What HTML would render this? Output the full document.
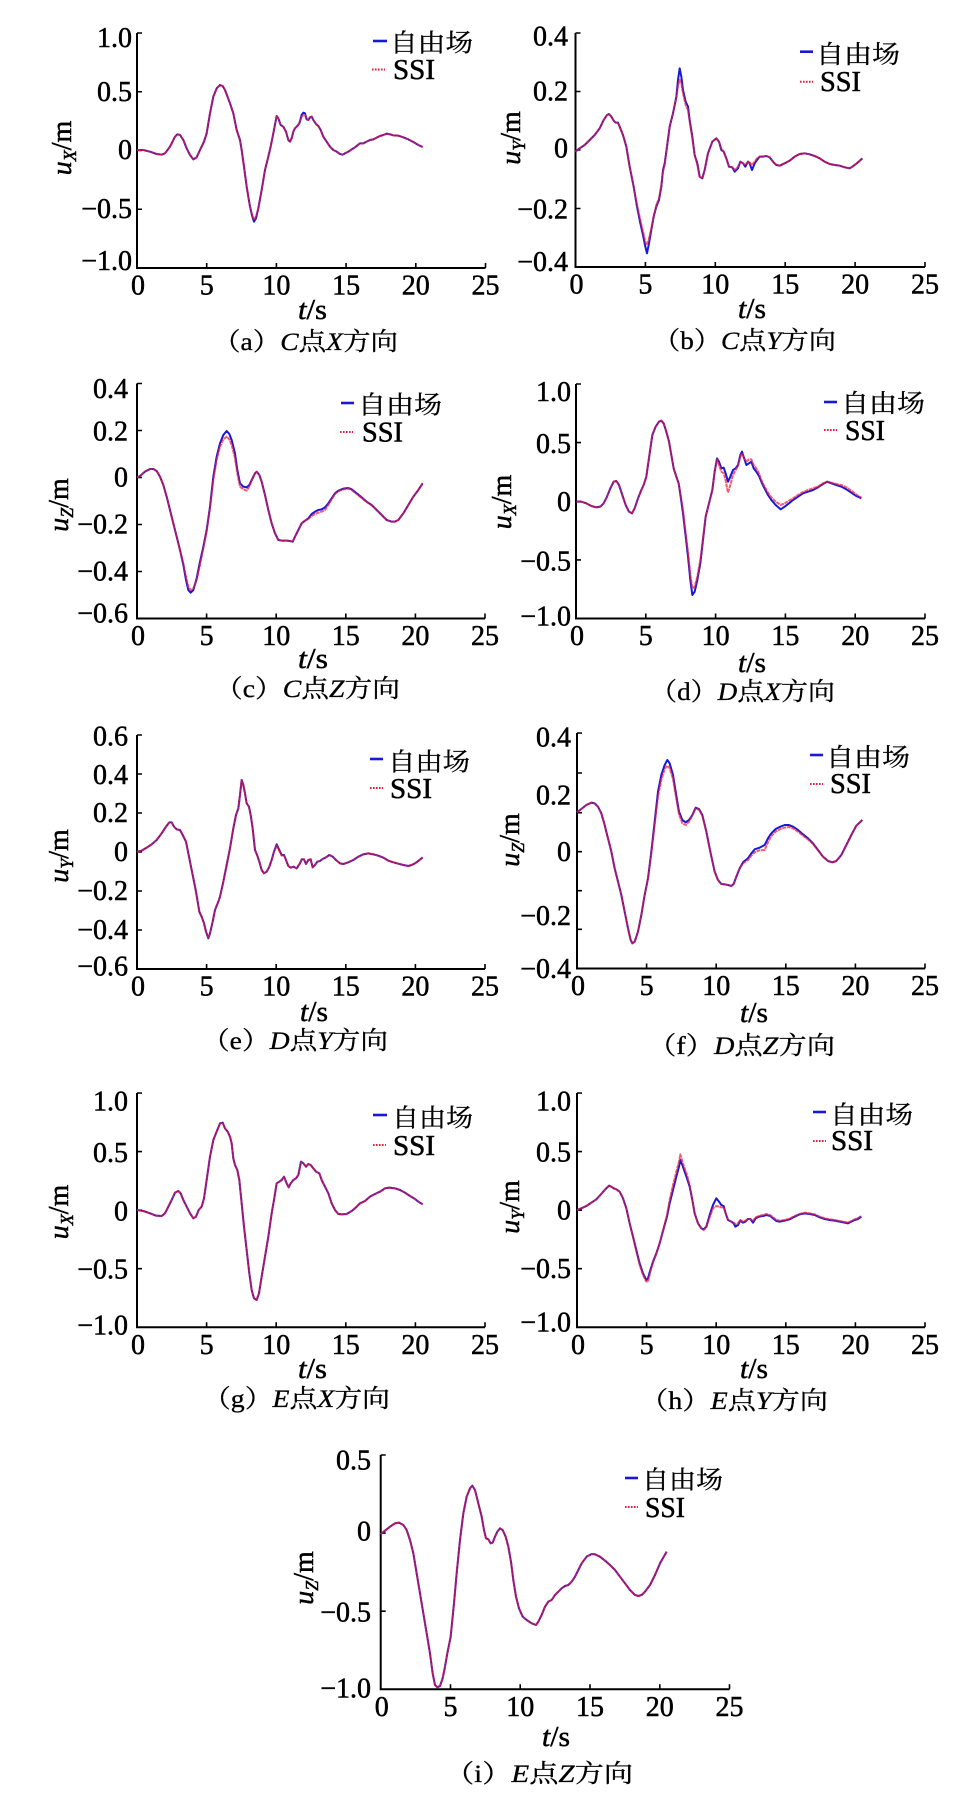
<!DOCTYPE html>
<html><head><meta charset="utf-8"><style>
html,body{margin:0;padding:0;background:#fff;}
svg{display:block;}
.t{font-family:"Liberation Serif","Times New Roman","Noto Serif CJK SC","DejaVu Serif",serif;font-size:28px;fill:#000;stroke:#000;stroke-width:0.5px;}
.cj{font-family:"Liberation Serif","Noto Serif CJK SC",serif;font-size:25px;fill:#000;stroke:#000;stroke-width:0.3px;}
.ax{fill:none;stroke:#000;stroke-width:2;}
.tk{stroke:#000;stroke-width:1.6;}
.b{fill:none;stroke:#1818d8;stroke-width:6;stroke-linejoin:round;}
.r{fill:none;stroke:#ee1c3c;stroke-opacity:0.72;stroke-width:6;stroke-dasharray:12 2;stroke-linejoin:round;}
.lb{stroke:#1818d8;stroke-width:2.6;}
.lr{stroke:#ee1c3c;stroke-width:2;stroke-dasharray:1.6 1.4;}
</style></head><body>
<svg width="966" height="1814" viewBox="0 0 966 1814" xmlns="http://www.w3.org/2000/svg">
<rect width="966" height="1814" fill="#fff"/>

<!-- ================= (a) ================= -->
<path class="ax" d="M137,33 L137,268 L485.5,268"/>
<path class="tk" d="M137,33h5M137,91.75h5M137,150.5h5M137,209.25h5M206.7,268v-5M276.4,268v-5M346.1,268v-5M415.8,268v-5M485.5,268v-5"/>
<g class="t" text-anchor="end"><text x="132" y="47">1.0</text><text x="132" y="101">0.5</text><text x="132" y="159">0</text><text x="132" y="218">−0.5</text><text x="132" y="270">−1.0</text></g>
<g class="t" text-anchor="middle"><text x="138" y="294.5">0</text><text x="206.7" y="294.5">5</text><text x="276.4" y="294.5">10</text><text x="346.1" y="294.5">15</text><text x="415.8" y="294.5">20</text><text x="485.5" y="294.5">25</text></g>
<text class="t" transform="translate(71,148) rotate(-90)" text-anchor="middle"><tspan font-style="italic">u</tspan><tspan font-style="italic" font-size="18" dy="5">X</tspan><tspan dy="-5">/m</tspan></text>
<text class="t" x="298" y="319" textLength="29" lengthAdjust="spacingAndGlyphs"><tspan font-style="italic">t</tspan>/s</text>
<text class="cj" x="213" y="350" textLength="185" lengthAdjust="spacingAndGlyphs">（a）<tspan font-style="italic">C</tspan>点<tspan font-style="italic">X</tspan>方向</text>
<line class="lb" x1="373" y1="41" x2="387" y2="41"/><text class="cj" x="390" y="51.5" font-size="26" textLength="83" lengthAdjust="spacingAndGlyphs">自由场</text>
<line class="lr" x1="372" y1="69.5" x2="385" y2="69.5"/><text class="t" x="393" y="79" textLength="42" lengthAdjust="spacingAndGlyphs">SSI</text>
<g transform="translate(0,0) scale(0.33333)">
<polyline class="b" points="411,450 430,450 450,455 470,462 485,464 495,460 510,440 525,410 532,403 540,405 550,420 560,445 570,465 580,478 590,472 600,450 612,425 620,400 630,340 640,290 650,265 660,255 668,258 675,270 690,310 700,340 710,390 720,420 725,450 732,500 740,560 750,620 757,650 762,665 768,655 775,625 785,570 795,510 805,470 812,440 820,400 830,348 835,355 842,375 850,380 858,395 865,420 870,425 875,415 880,395 885,385 892,378 898,370 905,345 910,338 915,340 920,358 925,360 930,352 935,350 940,360 948,372 955,378 962,390 970,410 980,425 990,440 1000,450 1010,455 1020,462 1028,464 1035,460 1045,455 1055,448 1065,442 1080,430 1090,430 1100,425 1110,420 1120,418 1130,413 1140,408 1150,405 1160,401 1170,403 1180,406 1195,407 1210,412 1225,418 1240,426 1255,435 1268,441"/>
<polyline class="r" points="411,450 430,450 450,455 470,462 485,464 495,460 510,440 525,410 532,403 540,405 550,420 560,445 570,465 580,478 590,472 600,450 612,425 620,400 630,340 640,290 650,265 660,255 668,258 675,270 690,310 700,340 710,390 720,420 725,450 732,500 740,560 750,620 757,648 762,658 768,650 775,625 785,570 795,510 805,470 812,440 820,400 830,348 835,355 842,375 850,380 858,395 865,420 870,425 875,415 880,395 885,385 892,378 898,370 905,350 910,345 915,345 920,358 925,360 930,352 935,350 940,360 948,372 955,378 962,390 970,410 980,425 990,440 1000,450 1010,455 1020,462 1028,464 1035,460 1045,455 1055,448 1065,442 1080,430 1090,430 1100,425 1110,420 1120,418 1130,413 1140,408 1150,405 1160,401 1170,403 1180,406 1195,407 1210,412 1225,418 1240,426 1255,435 1268,441"/>
</g>

<!-- ================= (b) ================= -->
<path class="ax" d="M575.5,33 L575.5,267 L925,267"/>
<path class="tk" d="M575.5,33h5M575.5,91.5h5M575.5,150h5M575.5,208.5h5M645.4,267v-5M715.3,267v-5M785.2,267v-5M855.1,267v-5M925,267v-5"/>
<g class="t" text-anchor="end"><text x="568" y="45.5">0.4</text><text x="568" y="100.5">0.2</text><text x="568" y="157.5">0</text><text x="568" y="218.5">−0.2</text><text x="568" y="271">−0.4</text></g>
<g class="t" text-anchor="middle"><text x="576.5" y="293.5">0</text><text x="645.4" y="293.5">5</text><text x="715.3" y="293.5">10</text><text x="785.2" y="293.5">15</text><text x="855.1" y="293.5">20</text><text x="925" y="293.5">25</text></g>
<text class="t" transform="translate(520,138) rotate(-90)" text-anchor="middle"><tspan font-style="italic">u</tspan><tspan font-style="italic" font-size="18" dy="5">Y</tspan><tspan dy="-5">/m</tspan></text>
<text class="t" x="738" y="318" textLength="28" lengthAdjust="spacingAndGlyphs"><tspan font-style="italic">t</tspan>/s</text>
<text class="cj" x="653" y="349" textLength="183" lengthAdjust="spacingAndGlyphs">（b）<tspan font-style="italic">C</tspan>点<tspan font-style="italic">Y</tspan>方向</text>
<line class="lb" x1="800" y1="51.7" x2="813" y2="51.7"/><text class="cj" x="816" y="63" font-size="26" textLength="84" lengthAdjust="spacingAndGlyphs">自由场</text>
<line class="lr" x1="800" y1="81.7" x2="813" y2="81.7"/><text class="t" x="820" y="91" textLength="41" lengthAdjust="spacingAndGlyphs">SSI</text>
<g transform="translate(483,0) scale(0.33333)">
<polyline class="b" points="277,455 290,445 305,435 320,420 335,405 350,385 362,360 372,345 378,342 385,350 392,362 398,368 405,368 412,385 420,405 430,440 440,500 452,560 462,620 472,670 480,705 487,740 492,760 497,735 505,690 512,650 520,620 528,600 535,560 540,510 545,490 552,440 560,380 570,340 580,290 585,240 590,205 595,230 600,270 608,305 615,320 620,360 628,410 635,465 643,490 650,530 658,535 665,510 675,460 688,425 700,415 708,425 715,450 722,455 730,475 738,500 748,502 755,515 765,505 772,485 780,490 787,500 795,485 800,490 807,510 815,490 822,480 830,470 840,470 850,468 860,472 870,485 880,495 890,497 905,490 920,482 935,470 950,462 965,460 980,463 995,468 1010,475 1025,485 1040,492 1055,495 1070,497 1085,502 1100,505 1108,500 1115,495 1125,487 1138,475"/>
<polyline class="r" points="277,455 290,445 305,435 320,420 335,405 350,385 362,360 372,345 378,342 385,350 392,362 398,368 405,368 412,385 420,405 430,440 440,500 452,560 462,615 472,660 480,695 487,725 492,735 497,720 505,685 512,650 520,615 528,595 535,555 540,515 545,495 552,440 560,380 570,340 580,295 585,258 590,240 595,250 600,280 608,315 615,330 620,365 628,415 635,465 643,495 650,530 658,535 665,510 675,460 688,425 700,415 708,425 715,445 722,455 730,475 738,500 748,502 755,510 765,500 772,485 780,490 787,495 795,485 800,488 807,495 815,485 822,475 830,470 840,470 850,468 860,472 870,485 880,495 890,497 905,490 920,482 935,470 950,462 965,460 980,463 995,468 1010,475 1025,485 1040,492 1055,495 1070,497 1085,502 1100,505 1108,500 1115,495 1125,487 1138,475"/>
</g>

<!-- ================= (c) ================= -->
<path class="ax" d="M137,383.5 L137,618.5 L485,618.5"/>
<path class="tk" d="M137,383.5h5M137,430.5h5M137,477.5h5M137,524.5h5M137,571.5h5M206.6,618.5v-5M276.2,618.5v-5M345.8,618.5v-5M415.4,618.5v-5M485,618.5v-5"/>
<g class="t" text-anchor="end"><text x="128" y="398">0.4</text><text x="128" y="440.5">0.2</text><text x="128" y="486.5">0</text><text x="128" y="533.5">−0.2</text><text x="128" y="580.5">−0.4</text><text x="128" y="622.5">−0.6</text></g>
<g class="t" text-anchor="middle"><text x="138" y="645">0</text><text x="206.6" y="645">5</text><text x="276.2" y="645">10</text><text x="345.8" y="645">15</text><text x="415.4" y="645">20</text><text x="485" y="645">25</text></g>
<text class="t" transform="translate(68,505) rotate(-90)" text-anchor="middle"><tspan font-style="italic">u</tspan><tspan font-style="italic" font-size="18" dy="5">Z</tspan><tspan dy="-5">/m</tspan></text>
<text class="t" x="298" y="668" textLength="30" lengthAdjust="spacingAndGlyphs"><tspan font-style="italic">t</tspan>/s</text>
<text class="cj" x="215" y="697" textLength="185" lengthAdjust="spacingAndGlyphs">（c）<tspan font-style="italic">C</tspan>点<tspan font-style="italic">Z</tspan>方向</text>
<line class="lb" x1="341" y1="403" x2="354" y2="403"/><text class="cj" x="358" y="413.5" font-size="26" textLength="84" lengthAdjust="spacingAndGlyphs">自由场</text>
<line class="lr" x1="340" y1="432" x2="353" y2="432"/><text class="t" x="362" y="441.5" textLength="41" lengthAdjust="spacingAndGlyphs">SSI</text>
<g transform="translate(0,370) scale(0.33333)">
<polyline class="b" points="411,322 420,318 435,305 450,297 460,297 470,303 480,320 490,345 500,380 510,420 520,460 530,500 540,540 550,585 558,630 565,660 572,668 580,660 590,625 600,575 610,530 620,480 630,410 640,320 650,260 660,220 670,195 680,183 688,192 695,210 705,250 712,300 720,340 730,350 740,352 748,345 755,330 765,310 770,305 778,315 785,335 795,375 805,420 815,460 825,490 835,510 845,512 860,512 870,513 878,515 885,500 895,480 905,460 915,452 925,445 935,432 945,425 955,420 965,418 975,412 985,400 995,385 1005,370 1015,362 1030,356 1045,354 1055,358 1070,370 1085,382 1100,395 1115,405 1130,420 1145,435 1160,450 1175,455 1185,455 1195,450 1210,430 1225,405 1240,380 1255,360 1268,340"/>
<polyline class="r" points="411,322 420,318 435,305 450,297 460,297 470,303 480,320 490,345 500,380 510,420 520,460 530,500 540,540 550,580 558,620 565,650 572,660 580,655 590,630 600,585 610,535 620,485 630,415 640,330 650,270 660,230 670,208 680,200 688,208 695,225 705,265 712,310 720,350 730,358 740,362 748,350 755,332 765,310 770,305 778,315 785,335 795,375 805,420 815,460 825,490 835,510 845,512 860,512 870,513 878,515 885,500 895,480 905,460 915,452 925,447 935,438 945,432 955,428 965,425 975,420 985,405 995,388 1005,372 1015,364 1030,358 1045,356 1055,360 1070,372 1085,384 1100,396 1115,406 1130,420 1145,435 1160,450 1175,455 1185,455 1195,450 1210,430 1225,405 1240,380 1255,360 1268,340"/>
</g>

<!-- ================= (d) ================= -->
<path class="ax" d="M576,384 L576,618.5 L925,618.5"/>
<path class="tk" d="M576,384h5M576,442.6h5M576,501.25h5M576,559.9h5M645.8,618.5v-5M715.6,618.5v-5M785.4,618.5v-5M855.2,618.5v-5M925,618.5v-5"/>
<g class="t" text-anchor="end"><text x="571" y="401">1.0</text><text x="571" y="453">0.5</text><text x="571" y="511">0</text><text x="571" y="570.5">−0.5</text><text x="571" y="625.5">−1.0</text></g>
<g class="t" text-anchor="middle"><text x="577" y="645">0</text><text x="645.8" y="645">5</text><text x="715.6" y="645">10</text><text x="785.4" y="645">15</text><text x="855.2" y="645">20</text><text x="925" y="645">25</text></g>
<text class="t" transform="translate(511,502) rotate(-90)" text-anchor="middle"><tspan font-style="italic">u</tspan><tspan font-style="italic" font-size="18" dy="5">X</tspan><tspan dy="-5">/m</tspan></text>
<text class="t" x="738" y="672" textLength="28" lengthAdjust="spacingAndGlyphs"><tspan font-style="italic">t</tspan>/s</text>
<text class="cj" x="650" y="700" textLength="185" lengthAdjust="spacingAndGlyphs">（d）<tspan font-style="italic">D</tspan>点<tspan font-style="italic">X</tspan>方向</text>
<line class="lb" x1="824" y1="402" x2="837" y2="402"/><text class="cj" x="841" y="412" font-size="26" textLength="84" lengthAdjust="spacingAndGlyphs">自由场</text>
<line class="lr" x1="824" y1="430" x2="837" y2="430"/><text class="t" x="845" y="440" textLength="40" lengthAdjust="spacingAndGlyphs">SSI</text>
<g transform="translate(483,370) scale(0.33333)">
<polyline class="b" points="280,395 295,395 310,400 325,408 340,412 352,410 362,400 372,380 382,355 392,335 400,333 408,345 418,375 428,405 438,425 447,430 455,415 465,385 475,360 482,345 490,320 500,250 508,195 518,170 528,155 535,152 542,160 550,185 558,215 565,255 572,295 580,320 587,340 593,380 600,430 607,490 615,560 622,630 628,675 635,665 643,630 652,580 660,510 668,440 678,400 688,360 695,305 702,265 708,275 715,295 722,293 728,310 735,335 742,320 750,300 758,295 765,285 772,255 777,245 782,260 790,285 798,280 805,275 812,295 820,305 828,318 835,335 842,350 855,375 865,390 878,405 893,418 905,410 918,400 930,390 945,380 960,370 975,365 990,360 1005,352 1020,342 1033,335 1045,340 1060,345 1075,350 1090,358 1105,368 1120,378 1135,385"/>
<polyline class="r" points="280,395 295,395 310,400 325,408 340,412 352,410 362,400 372,380 382,355 392,335 400,333 408,345 418,375 428,405 438,425 447,430 455,415 465,385 475,360 482,345 490,320 500,250 508,195 518,170 528,155 535,152 542,160 550,185 558,215 565,255 572,295 580,320 587,340 593,375 600,420 607,480 615,545 622,615 628,655 635,650 643,620 652,570 660,505 668,440 678,400 688,360 695,305 702,268 708,285 715,305 722,310 728,332 735,368 742,345 750,315 758,300 765,288 772,260 777,250 782,262 790,275 798,268 805,268 812,285 820,295 828,310 835,330 842,345 855,368 865,382 878,395 893,405 905,400 918,392 930,385 945,375 960,366 975,360 990,355 1005,350 1020,340 1033,335 1045,338 1060,342 1075,345 1090,352 1105,362 1120,374 1135,383"/>
</g>

<!-- ================= (e) ================= -->
<path class="ax" d="M137,735 L137,969 L485,969"/>
<path class="tk" d="M137,735h5M137,774h5M137,813h5M137,852h5M137,891h5M137,930h5M206.6,969v-5M276.2,969v-5M345.8,969v-5M415.4,969v-5M485,969v-5"/>
<g class="t" text-anchor="end"><text x="128" y="745.5">0.6</text><text x="128" y="784">0.4</text><text x="128" y="822">0.2</text><text x="128" y="861">0</text><text x="128" y="900">−0.2</text><text x="128" y="939">−0.4</text><text x="128" y="975.5">−0.6</text></g>
<g class="t" text-anchor="middle"><text x="138" y="995.5">0</text><text x="206.6" y="995.5">5</text><text x="276.2" y="995.5">10</text><text x="345.8" y="995.5">15</text><text x="415.4" y="995.5">20</text><text x="485" y="995.5">25</text></g>
<text class="t" transform="translate(68,856) rotate(-90)" text-anchor="middle"><tspan font-style="italic">u</tspan><tspan font-style="italic" font-size="18" dy="5">Y</tspan><tspan dy="-5">/m</tspan></text>
<text class="t" x="300" y="1021" textLength="28" lengthAdjust="spacingAndGlyphs"><tspan font-style="italic">t</tspan>/s</text>
<text class="cj" x="202" y="1049" textLength="186" lengthAdjust="spacingAndGlyphs">（e）<tspan font-style="italic">D</tspan>点<tspan font-style="italic">Y</tspan>方向</text>
<line class="lb" x1="370" y1="759" x2="383" y2="759"/><text class="cj" x="388" y="770.5" font-size="26" textLength="82" lengthAdjust="spacingAndGlyphs">自由场</text>
<line class="lr" x1="370" y1="788" x2="383" y2="788"/><text class="t" x="390" y="798" textLength="42" lengthAdjust="spacingAndGlyphs">SSI</text>
<g transform="translate(0,735) scale(0.33333)">
<polyline class="b" points="411,350 425,347 440,338 455,328 470,315 485,295 498,275 508,262 515,262 522,275 530,283 540,285 548,300 558,320 568,370 578,420 588,470 598,530 605,545 612,565 618,590 625,610 630,595 638,560 645,525 655,500 660,485 670,440 680,390 690,340 700,280 708,240 715,220 720,180 725,135 730,150 735,175 740,205 747,215 752,240 758,280 765,345 772,362 778,380 785,405 792,415 800,410 808,395 815,375 822,350 830,328 838,345 845,360 852,360 858,375 865,393 872,398 880,395 890,400 900,385 905,373 912,373 918,387 925,375 932,373 938,397 945,390 952,380 960,378 968,372 978,367 988,360 998,365 1008,375 1020,385 1030,387 1045,382 1060,375 1075,365 1090,358 1105,355 1120,358 1135,362 1150,368 1165,377 1180,382 1195,386 1210,390 1225,393 1235,390 1245,385 1255,378 1268,367"/>
<polyline class="r" points="411,350 425,347 440,338 455,328 470,315 485,295 498,275 508,262 515,262 522,275 530,283 540,285 548,300 558,320 568,370 578,420 588,470 598,530 605,545 612,565 618,590 625,610 630,595 638,560 645,525 655,500 660,485 670,440 680,390 690,340 700,280 708,240 715,220 720,180 725,135 730,150 735,175 740,205 747,215 752,240 758,280 765,345 772,362 778,380 785,405 792,415 800,410 808,395 815,375 822,350 830,332 838,348 845,362 852,360 858,375 865,393 872,398 880,395 890,400 900,385 905,373 912,373 918,387 925,375 932,373 938,397 945,390 952,380 960,378 968,372 978,367 988,360 998,365 1008,375 1020,385 1030,387 1045,382 1060,375 1075,365 1090,358 1105,355 1120,358 1135,362 1150,368 1165,377 1180,382 1195,386 1210,390 1225,393 1235,390 1245,385 1255,378 1268,367"/>
</g>

<!-- ================= (f) ================= -->
<path class="ax" d="M577,733 L577,968.5 L925,968.5"/>
<path class="tk" d="M577,733h5M577,773h5M577,812.7h5M577,851.7h5M577,890.7h5M577,929.3h5M646.6,968.5v-5M716.2,968.5v-5M785.8,968.5v-5M855.4,968.5v-5M925,968.5v-5"/>
<g class="t" text-anchor="end"><text x="571" y="746.5">0.4</text><text x="571" y="804.5">0.2</text><text x="571" y="861">0</text><text x="571" y="925">−0.2</text><text x="571" y="978">−0.4</text></g>
<g class="t" text-anchor="middle"><text x="578" y="995">0</text><text x="646.6" y="995">5</text><text x="716.2" y="995">10</text><text x="785.8" y="995">15</text><text x="855.4" y="995">20</text><text x="925" y="995">25</text></g>
<text class="t" transform="translate(519,840) rotate(-90)" text-anchor="middle"><tspan font-style="italic">u</tspan><tspan font-style="italic" font-size="18" dy="5">Z</tspan><tspan dy="-5">/m</tspan></text>
<text class="t" x="740" y="1022" textLength="28" lengthAdjust="spacingAndGlyphs"><tspan font-style="italic">t</tspan>/s</text>
<text class="cj" x="648" y="1054" textLength="187" lengthAdjust="spacingAndGlyphs">（f）<tspan font-style="italic">D</tspan>点<tspan font-style="italic">Z</tspan>方向</text>
<line class="lb" x1="810" y1="755" x2="823" y2="755"/><text class="cj" x="826" y="766" font-size="26" textLength="84" lengthAdjust="spacingAndGlyphs">自由场</text>
<line class="lr" x1="810" y1="784" x2="823" y2="784"/><text class="t" x="830" y="793" textLength="41" lengthAdjust="spacingAndGlyphs">SSI</text>
<g transform="translate(483,735) scale(0.33333)">
<polyline class="b" points="282,232 295,222 310,210 325,203 335,205 345,215 355,235 365,270 375,310 385,350 395,400 405,440 415,480 425,530 435,580 443,615 448,625 455,620 465,590 475,540 485,480 495,430 505,350 515,260 525,170 535,120 545,90 553,75 560,85 570,120 578,170 588,230 598,255 608,262 618,255 628,240 638,218 648,222 658,240 670,290 682,350 695,410 705,435 715,447 725,448 735,450 745,453 752,447 760,425 770,400 780,382 795,370 805,355 815,343 830,338 845,330 855,310 865,295 878,282 892,275 905,270 918,270 930,275 945,285 960,298 975,310 990,325 1005,345 1020,365 1035,378 1048,382 1060,378 1075,360 1090,330 1105,300 1120,272 1138,255"/>
<polyline class="r" points="282,232 295,222 310,210 325,203 335,205 345,215 355,235 365,270 375,310 385,350 395,400 405,440 415,480 425,530 435,580 443,615 448,625 455,620 465,590 475,540 485,480 495,430 505,355 515,270 525,185 535,135 545,102 553,92 560,100 570,132 578,180 588,238 598,265 608,270 618,260 628,242 638,220 648,224 658,242 670,290 682,350 695,410 705,435 715,447 725,448 735,450 745,453 752,447 760,425 770,400 780,385 795,375 805,362 815,352 830,346 845,345 855,322 865,303 878,290 892,282 905,278 918,276 930,280 945,290 960,302 975,313 990,327 1005,346 1020,365 1035,378 1048,382 1060,378 1075,360 1090,330 1105,300 1120,272 1138,255"/>
</g>

<!-- ================= (g) ================= -->
<path class="ax" d="M137,1093 L137,1327.3 L485,1327.3"/>
<path class="tk" d="M137,1093h5M137,1151.6h5M137,1210.2h5M137,1268.7h5M206.6,1327.3v-5M276.2,1327.3v-5M345.8,1327.3v-5M415.4,1327.3v-5M485,1327.3v-5"/>
<g class="t" text-anchor="end"><text x="128" y="1110.5">1.0</text><text x="128" y="1162">0.5</text><text x="128" y="1220.5">0</text><text x="128" y="1278.5">−0.5</text><text x="128" y="1334.5">−1.0</text></g>
<g class="t" text-anchor="middle"><text x="138" y="1354">0</text><text x="206.6" y="1354">5</text><text x="276.2" y="1354">10</text><text x="345.8" y="1354">15</text><text x="415.4" y="1354">20</text><text x="485" y="1354">25</text></g>
<text class="t" transform="translate(68,1212) rotate(-90)" text-anchor="middle"><tspan font-style="italic">u</tspan><tspan font-style="italic" font-size="18" dy="5">X</tspan><tspan dy="-5">/m</tspan></text>
<text class="t" x="298" y="1378" textLength="29" lengthAdjust="spacingAndGlyphs"><tspan font-style="italic">t</tspan>/s</text>
<text class="cj" x="203" y="1407" textLength="187" lengthAdjust="spacingAndGlyphs">（g）<tspan font-style="italic">E</tspan>点<tspan font-style="italic">X</tspan>方向</text>
<line class="lb" x1="373" y1="1115" x2="387" y2="1115"/><text class="cj" x="392" y="1126.5" font-size="26" textLength="81" lengthAdjust="spacingAndGlyphs">自由场</text>
<line class="lr" x1="373" y1="1145" x2="386" y2="1145"/><text class="t" x="393" y="1155" textLength="42" lengthAdjust="spacingAndGlyphs">SSI</text>
<g transform="translate(0,1100) scale(0.33333)">
<polyline class="b" points="411,330 430,333 450,340 468,347 485,348 495,340 505,320 515,300 525,278 535,273 542,280 550,300 560,320 570,340 580,355 588,350 596,330 605,320 612,295 620,240 630,170 640,120 650,95 660,70 668,68 675,85 683,95 690,110 695,130 700,175 705,195 712,210 718,240 725,310 732,380 740,450 748,520 755,570 762,595 770,600 777,580 785,530 795,470 805,410 815,340 822,300 830,250 838,245 845,240 852,230 860,250 866,262 872,250 880,240 888,235 895,225 903,185 910,190 918,200 925,192 932,195 940,205 948,215 958,220 965,240 975,260 985,280 995,310 1005,330 1015,342 1025,343 1040,342 1055,333 1065,325 1080,310 1095,303 1110,290 1125,282 1140,275 1155,265 1168,263 1185,265 1200,270 1215,278 1230,288 1245,297 1255,305 1268,313"/>
<polyline class="r" points="411,330 430,333 450,340 468,347 485,348 495,340 505,320 515,300 525,278 535,273 542,280 550,300 560,320 570,340 580,355 588,350 596,330 605,320 612,295 620,240 630,170 640,120 650,95 660,70 668,68 675,85 683,95 690,110 695,130 700,175 705,195 712,210 718,240 725,310 732,380 740,450 748,520 755,570 762,595 770,600 777,580 785,530 795,470 805,410 815,340 822,300 830,250 838,245 845,240 852,230 860,250 866,262 872,250 880,240 888,235 895,225 903,185 910,190 918,200 925,192 932,195 940,205 948,215 958,220 965,240 975,260 985,280 995,310 1005,330 1015,342 1025,343 1040,342 1055,333 1065,325 1080,310 1095,303 1110,290 1125,282 1140,275 1155,265 1168,263 1185,265 1200,270 1215,278 1230,288 1245,297 1255,305 1268,313"/>
</g>

<!-- ================= (h) ================= -->
<path class="ax" d="M577,1093 L577,1327.3 L925,1327.3"/>
<path class="tk" d="M577,1093h5M577,1151.6h5M577,1210.2h5M577,1268.7h5M646.6,1327.3v-5M716.2,1327.3v-5M785.8,1327.3v-5M855.4,1327.3v-5M925,1327.3v-5"/>
<g class="t" text-anchor="end"><text x="571" y="1110.5">1.0</text><text x="571" y="1161.5">0.5</text><text x="571" y="1219.5">0</text><text x="571" y="1278">−0.5</text><text x="571" y="1331.5">−1.0</text></g>
<g class="t" text-anchor="middle"><text x="578" y="1354">0</text><text x="646.6" y="1354">5</text><text x="716.2" y="1354">10</text><text x="785.8" y="1354">15</text><text x="855.4" y="1354">20</text><text x="925" y="1354">25</text></g>
<text class="t" transform="translate(519,1207) rotate(-90)" text-anchor="middle"><tspan font-style="italic">u</tspan><tspan font-style="italic" font-size="18" dy="5">Y</tspan><tspan dy="-5">/m</tspan></text>
<text class="t" x="740" y="1378" textLength="28" lengthAdjust="spacingAndGlyphs"><tspan font-style="italic">t</tspan>/s</text>
<text class="cj" x="640" y="1409" textLength="188" lengthAdjust="spacingAndGlyphs">（h）<tspan font-style="italic">E</tspan>点<tspan font-style="italic">Y</tspan>方向</text>
<line class="lb" x1="813" y1="1112" x2="826" y2="1112"/><text class="cj" x="830" y="1123.5" font-size="26" textLength="83" lengthAdjust="spacingAndGlyphs">自由场</text>
<line class="lr" x1="813" y1="1141" x2="826" y2="1141"/><text class="t" x="831" y="1150" textLength="42" lengthAdjust="spacingAndGlyphs">SSI</text>
<g transform="translate(483,1100) scale(0.33333)">
<polyline class="b" points="282,330 295,325 310,318 325,308 340,298 352,285 365,270 378,257 385,260 392,265 400,268 410,275 420,295 430,325 440,370 450,410 460,450 470,490 480,520 490,540 495,535 502,510 510,485 520,460 530,430 538,400 545,375 552,350 560,310 570,270 580,230 588,200 592,180 598,195 605,215 612,235 620,260 628,300 635,340 645,370 655,385 662,388 670,380 680,345 690,315 700,295 708,305 715,315 722,318 728,340 735,360 745,365 752,370 757,380 765,375 772,362 780,368 787,365 795,357 802,357 810,368 818,355 828,350 840,348 850,345 862,348 870,355 880,363 890,365 905,362 920,358 935,350 950,343 965,340 980,342 995,345 1010,352 1025,357 1040,360 1055,362 1070,365 1085,368 1095,370 1105,365 1115,360 1125,357 1135,350"/>
<polyline class="r" points="282,330 295,325 310,318 325,308 340,298 352,285 365,270 378,257 385,260 392,265 400,268 410,275 420,295 430,325 440,370 450,410 460,455 470,495 480,525 490,545 495,545 502,515 510,488 520,462 530,430 538,400 545,372 552,345 560,300 570,255 580,215 588,185 592,163 598,185 605,205 612,225 620,255 628,300 635,340 645,370 655,385 662,390 670,382 680,352 690,325 700,318 708,320 715,322 722,322 728,340 735,360 745,365 752,368 757,372 765,370 772,360 780,365 787,362 795,357 802,357 810,362 818,352 828,348 840,345 850,342 862,346 870,352 880,360 890,362 905,360 920,356 935,348 950,342 965,338 980,340 995,343 1010,350 1025,355 1040,358 1055,360 1070,363 1085,366 1095,368 1105,363 1115,358 1125,354 1135,348"/>
</g>

<!-- ================= (i) ================= -->
<path class="ax" d="M380.7,1455 L380.7,1689.3 L729.5,1689.3"/>
<path class="tk" d="M380.7,1455h5M380.7,1533.1h5M380.7,1611.2h5M450.5,1689.3v-5M520.2,1689.3v-5M590,1689.3v-5M659.8,1689.3v-5M729.5,1689.3v-5"/>
<g class="t" text-anchor="end"><text x="371" y="1469.5">0.5</text><text x="371" y="1540.5">0</text><text x="371" y="1621.5">−0.5</text><text x="371" y="1697.5">−1.0</text></g>
<g class="t" text-anchor="middle"><text x="381.7" y="1716">0</text><text x="450.5" y="1716">5</text><text x="520.2" y="1716">10</text><text x="590" y="1716">15</text><text x="659.8" y="1716">20</text><text x="729.5" y="1716">25</text></g>
<text class="t" transform="translate(313,1578) rotate(-90)" text-anchor="middle"><tspan font-style="italic">u</tspan><tspan font-style="italic" font-size="18" dy="5">Z</tspan><tspan dy="-5">/m</tspan></text>
<text class="t" x="542" y="1746" textLength="28" lengthAdjust="spacingAndGlyphs"><tspan font-style="italic">t</tspan>/s</text>
<text class="cj" x="445" y="1782" textLength="188" lengthAdjust="spacingAndGlyphs">（i）<tspan font-style="italic">E</tspan>点<tspan font-style="italic">Z</tspan>方向</text>
<line class="lb" x1="625" y1="1478" x2="638" y2="1478"/><text class="cj" x="642" y="1488.5" font-size="26" textLength="81" lengthAdjust="spacingAndGlyphs">自由场</text>
<line class="lr" x1="625" y1="1507" x2="638" y2="1507"/><text class="t" x="645" y="1517" textLength="40" lengthAdjust="spacingAndGlyphs">SSI</text>
<g transform="translate(240,1440) scale(0.33333)">
<polyline class="b" points="422,282 435,272 450,260 465,250 477,248 490,255 500,270 510,300 520,340 530,400 540,460 550,520 560,580 570,640 578,700 585,735 592,742 600,738 608,715 615,680 622,640 632,590 642,490 650,400 660,300 670,220 680,170 690,145 697,137 705,150 715,190 725,230 732,270 738,295 745,298 752,310 758,308 765,290 772,275 780,265 788,270 797,290 805,320 813,365 820,420 828,470 837,505 848,530 860,540 875,550 888,555 895,545 905,525 915,500 925,485 935,480 945,465 955,455 965,445 975,438 985,435 995,425 1005,410 1015,390 1025,370 1040,350 1055,342 1065,343 1080,350 1095,362 1110,375 1125,390 1140,410 1155,430 1170,450 1185,465 1195,468 1205,465 1215,455 1230,435 1245,405 1260,370 1280,335"/>
<polyline class="r" points="422,282 435,272 450,260 465,250 477,248 490,255 500,270 510,300 520,340 530,400 540,460 550,520 560,580 570,640 578,700 585,735 592,742 600,738 608,715 615,680 622,640 632,590 642,490 650,400 660,300 670,220 680,170 690,145 697,137 705,150 715,190 725,230 732,270 738,295 745,298 752,310 758,308 765,290 772,275 780,265 788,270 797,290 805,320 813,365 820,420 828,470 837,505 848,530 860,540 875,550 888,555 895,545 905,525 915,500 925,485 935,480 945,465 955,455 965,445 975,438 985,435 995,425 1005,410 1015,390 1025,370 1040,350 1055,342 1065,343 1080,350 1095,362 1110,375 1125,390 1140,410 1155,430 1170,450 1185,465 1195,468 1205,465 1215,455 1230,435 1245,405 1260,370 1280,335"/>
</g>
</svg>
</body></html>
